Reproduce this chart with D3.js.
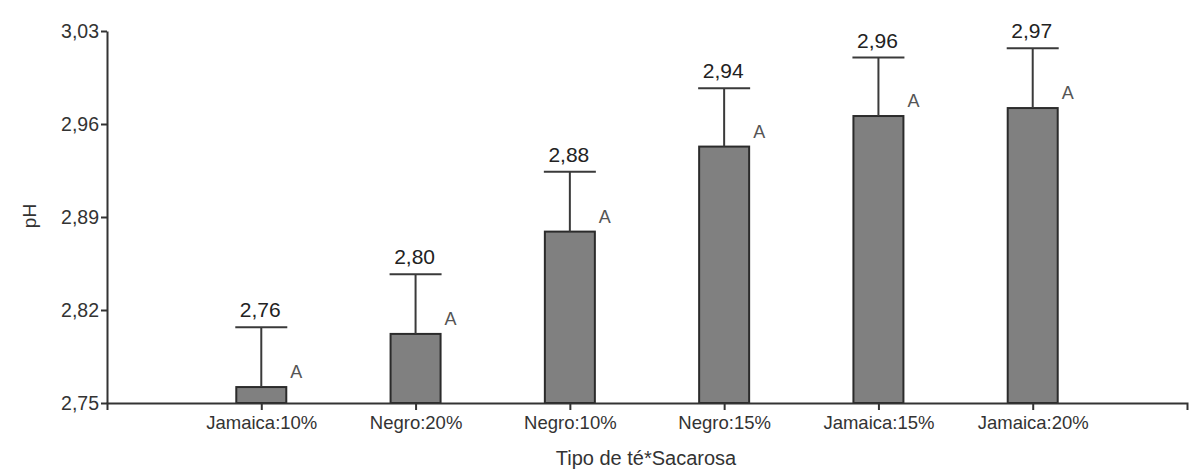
<!DOCTYPE html>
<html>
<head>
<meta charset="utf-8">
<script src="https://cdn.jsdelivr.net/npm/d3@7"></script>
<style>
  body { margin: 0; background: #fff; }
  svg text { font-family: Arial, "Liberation Sans", sans-serif; }
</style>
</head>
<body>
<script>
// data
const categories = ['Jamaica:10%', 'Negro:20%', 'Negro:10%', 'Negro:15%', 'Jamaica:15%', 'Jamaica:20%'];
const means = [2.762, 2.802, 2.879, 2.943, 2.966, 2.972];
const upper = [2.807, 2.847, 2.924, 2.987, 3.010, 3.017];
const meanLabels = ['2,76', '2,80', '2,88', '2,94', '2,96', '2,97'];
const groups = ['A', 'A', 'A', 'A', 'A', 'A'];
const yTicks = [2.75, 2.82, 2.89, 2.96, 3.03];

const width = 1197;
const height = 474;
const margin = {left: 107, top: 31, right: 10, bottom: 71};

const svg = d3.select('body')
    .append('svg')
    .attr('width', width)
    .attr('height', height);

const locale = d3.formatLocale({decimal: ',', thousands: '.', grouping: [3], currency: ['', '']});
const fmt = locale.format('.2f');

const x = d3.scalePoint()
    .domain(categories)
    .range([margin.left, 1187])
    .padding(1);

const y = d3.scaleLinear()
    .domain([2.75, 3.03])
    .range([height - margin.bottom, margin.top]);

const barW = 50;
const rows = categories.map((c, i) => ({cat: c, mean: means[i], up: upper[i], label: meanLabels[i], grp: groups[i]}));

// bars
svg.selectAll('rect.bar')
    .data(rows)
    .join('rect')
    .attr('class', 'bar')
    .attr('x', d => x(d.cat) - barW / 2)
    .attr('y', d => y(d.mean))
    .attr('width', barW)
    .attr('height', d => y(2.75) - y(d.mean))
    .attr('fill', '#808080')
    .attr('stroke', '#2b2b2b')
    .attr('stroke-width', 2);

// error bars (upper only)
svg.selectAll('line.err')
    .data(rows)
    .join('line')
    .attr('class', 'err')
    .attr('x1', d => x(d.cat))
    .attr('x2', d => x(d.cat))
    .attr('y1', d => y(d.mean))
    .attr('y2', d => y(d.up))
    .attr('stroke', '#3a3a3a')
    .attr('stroke-width', 2);

svg.selectAll('line.cap')
    .data(rows)
    .join('line')
    .attr('class', 'cap')
    .attr('x1', d => x(d.cat) - barW / 2 - 1)
    .attr('x2', d => x(d.cat) + barW / 2 + 1)
    .attr('y1', d => y(d.up))
    .attr('y2', d => y(d.up))
    .attr('stroke', '#3a3a3a')
    .attr('stroke-width', 2);

// mean labels
svg.selectAll('text.val')
    .data(rows)
    .join('text')
    .attr('class', 'val')
    .attr('x', d => x(d.cat) - 1)
    .attr('y', d => y(d.up) - 10)
    .attr('text-anchor', 'middle')
    .attr('font-size', 21)
    .attr('fill', '#222')
    .text(d => d.label);

// group letters
svg.selectAll('text.grp')
    .data(rows)
    .join('text')
    .attr('class', 'grp')
    .attr('x', d => x(d.cat) + barW / 2 + 4)
    .attr('y', d => y(d.mean) - 9)
    .attr('font-size', 18)
    .attr('fill', '#555')
    .text(d => d.grp);

// axes
const xAxis = svg.append('g')
    .attr('transform', `translate(0,${y(2.75)})`)
    .call(d3.axisBottom(x).tickSize(7).tickSizeOuter(7).tickPadding(6));

const yAxis = svg.append('g')
    .attr('transform', `translate(${margin.left},0)`)
    .call(d3.axisLeft(y).tickValues(yTicks).tickFormat(fmt).tickSize(6).tickSizeOuter(0).tickPadding(2));

[xAxis, yAxis].forEach(g => {
    g.select('.domain').attr('stroke', '#333').attr('stroke-width', 2);
    g.selectAll('.tick line').attr('stroke', '#333').attr('stroke-width', 2);
    g.selectAll('.tick text')
        .attr('font-family', 'Arial, "Liberation Sans", sans-serif')
        .attr('fill', '#333');
});
xAxis.selectAll('.tick text').attr('font-size', 18.5);
yAxis.selectAll('.tick text').attr('font-size', 19.5);

// axis titles
svg.append('text')
    .attr('x', 646)
    .attr('y', 465)
    .attr('text-anchor', 'middle')
    .attr('font-size', 20)
    .attr('fill', '#333')
    .text('Tipo de té*Sacarosa');

svg.append('text')
    .attr('transform', 'translate(36,216) rotate(-90)')
    .attr('text-anchor', 'middle')
    .attr('font-size', 19)
    .attr('fill', '#333')
    .text('pH');
</script>
</body>
</html>
